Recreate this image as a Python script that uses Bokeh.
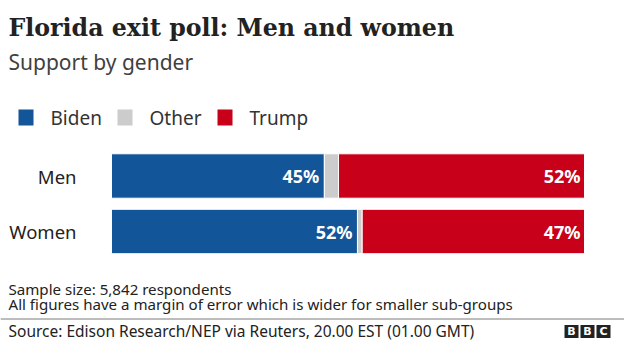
from bokeh.plotting import figure
from bokeh.models import Range1d
from bokeh.core.properties import value
from bokeh.embed import file_html
from bokeh.resources import INLINE

# ---- data ----
title = "Florida exit poll: Men and women"
subtitle = "Support by gender"
categories = ["Men", "Women"]
series_names = ["Biden", "Other", "Trump"]
biden = [45, 52]
other = [3, 1]
trump = [52, 47]
notes = ["Sample size: 5,842 respondents",
         "All figures have a margin of error which is wider for smaller sub-groups"]
source = "Source: Edison Research/NEP via Reuters, 20.00 EST (01.00 GMT)"
logo_letters = ["B", "B", "C"]

# ---- style ----
W, H = 624, 341
SANS = "Noto Sans"
SERIF = "DejaVu Serif"
colors = {"Biden": "#125599", "Other": "#cccccc", "Trump": "#c8001a"}
DARK = "#222222"

p = figure(width=W, height=H, x_range=Range1d(0, W), y_range=Range1d(H, 0),
           output_backend="svg", toolbar_location=None,
           x_axis_location=None, y_axis_location=None,
           min_border=0, min_border_left=0, min_border_right=0,
           min_border_top=0, min_border_bottom=0)
p.grid.visible = False
p.outline_line_color = None
p.background_fill_color = "white"
p.border_fill_color = "white"

# bar scales: 0..100 % spans pixels 111..584 ; rows centered at 175.5 + 55.5*i
left_px, right_px = 111, 584
sc = (right_px - left_px) / 100.0
p.extra_x_ranges = {"pct": Range1d(start=-left_px / sc, end=(W - left_px) / sc)}
row0, pitch = 175.5, 55.5
p.extra_y_ranges = {"rows": Range1d(start=(H - row0) / pitch, end=-row0 / pitch)}

rows = list(range(len(categories)))
b_end = [b for b in biden]
o_end = [b + o for b, o in zip(biden, other)]
t_end = [b + o + t for b, o, t in zip(biden, other, trump)]

for lefts, rights, name in [([0] * len(rows), b_end, "Biden"),
                            (b_end, o_end, "Other"),
                            (o_end, t_end, "Trump")]:
    p.hbar(y=rows, left=lefts, right=rights, height=0.8,
           fill_color=colors[name], line_color="white", line_width=1,
           x_range_name="pct", y_range_name="rows")

# value labels
common = dict(x_range_name="pct", y_range_name="rows", text_align="right",
              text_baseline="middle", text_color="white", text_font=value(SANS),
              text_font_style="bold", text_font_size="18px")
p.text(x=b_end, y=rows, text=[f"{v}%" for v in biden], x_offset=-5, **common)
p.text(x=t_end, y=rows, text=[f"{v}%" for v in trump], x_offset=-4, **common)

# category labels
p.text(x=[76] * len(rows), y=rows, text=categories, y_range_name="rows",
       text_align="right", text_baseline="middle",
       text_color=DARK, text_font=value(SANS), text_font_size="18.5px")

# title / subtitle
p.text(x=[8], y=[27.5], text=[title], text_font=value(SERIF), text_font_style="bold",
       text_font_size="23.7px", text_color=DARK, text_baseline="middle")
p.text(x=[8], y=[61.5], text=[subtitle], text_font=value(SANS),
       text_font_size="21px", text_color="#404040", text_baseline="middle")

# legend
leg_x = [18, 117, 217]
for xx, name in zip(leg_x, series_names):
    p.rect(x=[xx + 7.5], y=[117], width=15, height=16, fill_color=colors[name],
           line_color=None)
    p.text(x=[xx + 32], y=[117.5], text=[name], text_font=value(SANS),
           text_font_size="19px", text_color="#333333", text_baseline="middle")

# notes / source
p.text(x=[8, 8], y=[288.5, 303.5], text=notes, text_font=value(SANS),
       text_font_size="15.1px", text_color=DARK, text_baseline="middle")
p.segment(x0=[0], x1=[W], y0=[318.5], y1=[318.5], line_color="#7a7a7a", line_width=1)
p.text(x=[8], y=[330], text=[source], text_font=value(SANS),
       text_font_size="15.5px", text_color=DARK, text_baseline="middle")

# BBC logo
lx = [564, 580, 596]
for xx, ch in zip(lx, logo_letters):
    p.rect(x=[xx + 7], y=[331], width=14, height=13, fill_color="#222222", line_color=None)
    p.text(x=[xx + 7], y=[331], text=[ch], text_font=value("DejaVu Sans"),
           text_font_style="bold", text_font_size="11px", text_color="white",
           text_align="center", text_baseline="middle")

open("out.html", "w").write(file_html(p, INLINE))
